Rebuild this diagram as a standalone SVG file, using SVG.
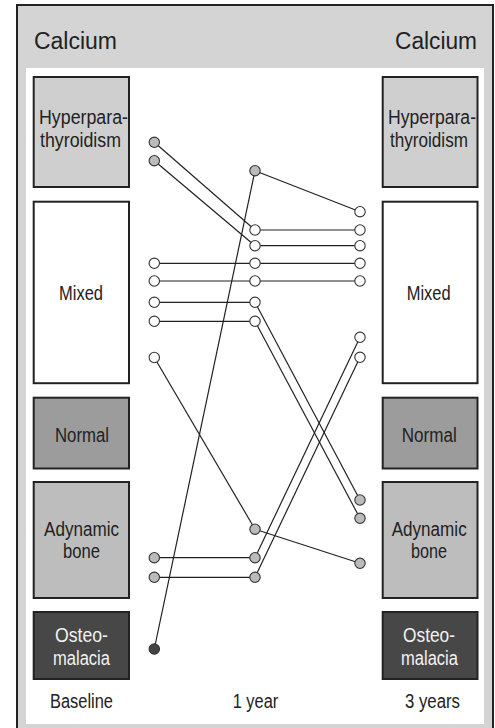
<svg xmlns="http://www.w3.org/2000/svg" width="495" height="728" viewBox="0 0 495 728">
<style>
text{font-family:"Liberation Sans",Arial,sans-serif;fill:#222}
.h{font-size:23px}
.b{font-size:20px}
.w{fill:#f2f2f2}
.box{stroke:#222;stroke-width:2}
.hy{fill:#cfcfcf}.mx{fill:#fff}.no{fill:#9c9c9c}.ad{fill:#bdbdbd}.os{fill:#474747}
.ln{stroke:#222;stroke-width:1.2;fill:none}
.c{stroke:#333;stroke-width:1.1;fill:#fff}
.g{fill:#bbb}.d{fill:#444}
</style>
<rect x="17" y="5" width="476" height="730" fill="#d4d4d4" stroke="#222" stroke-width="2"/>
<rect x="26" y="68" width="458" height="656" fill="#fff"/>
<text class="h" x="34" y="49" textLength="83" lengthAdjust="spacingAndGlyphs">Calcium</text>
<text class="h" x="395" y="49" textLength="82" lengthAdjust="spacingAndGlyphs">Calcium</text>
<g id="L-hyper"><rect class="box hy" x="33.7" y="77" width="95.3" height="110"/>
<text class="b" x="39" y="124" textLength="89" lengthAdjust="spacingAndGlyphs">Hyperpara-</text>
<text class="b" x="40" y="146.5" textLength="81" lengthAdjust="spacingAndGlyphs">thyroidism</text></g>
<g id="L-mixed"><rect class="box mx" x="33.7" y="201.7" width="95.3" height="181.5"/>
<text class="b" x="59" y="299.5" textLength="44" lengthAdjust="spacingAndGlyphs">Mixed</text></g>
<g id="L-normal"><rect class="box no" x="33.7" y="397.7" width="95.3" height="70.8"/>
<text class="b" x="55" y="441.7" textLength="54" lengthAdjust="spacingAndGlyphs">Normal</text></g>
<g id="L-adyn"><rect class="box ad" x="33.7" y="482" width="95.3" height="116"/>
<text class="b" x="44" y="535.7" textLength="75" lengthAdjust="spacingAndGlyphs">Adynamic</text>
<text class="b" x="63" y="558.3" textLength="37" lengthAdjust="spacingAndGlyphs">bone</text></g>
<g id="L-osteo"><rect class="box os" x="33.7" y="612" width="95.3" height="67"/>
<text class="b w" x="55" y="641.7" textLength="53" lengthAdjust="spacingAndGlyphs">Osteo-</text>
<text class="b w" x="53" y="665" textLength="57" lengthAdjust="spacingAndGlyphs">malacia</text></g>
<g id="R-hyper"><rect class="box hy" x="382.7" y="77" width="94.8" height="110"/>
<text class="b" x="388" y="124" textLength="88" lengthAdjust="spacingAndGlyphs">Hyperpara-</text>
<text class="b" x="390" y="146.5" textLength="78" lengthAdjust="spacingAndGlyphs">thyroidism</text></g>
<g id="R-mixed"><rect class="box mx" x="382.7" y="201.7" width="94.8" height="181.5"/>
<text class="b" x="406.7" y="299.5" textLength="44" lengthAdjust="spacingAndGlyphs">Mixed</text></g>
<g id="R-normal"><rect class="box no" x="382.7" y="397.7" width="94.8" height="70.8"/>
<text class="b" x="401.7" y="441.7" textLength="55" lengthAdjust="spacingAndGlyphs">Normal</text></g>
<g id="R-adyn"><rect class="box ad" x="382.7" y="482" width="94.8" height="116"/>
<text class="b" x="391.7" y="535.7" textLength="75" lengthAdjust="spacingAndGlyphs">Adynamic</text>
<text class="b" x="411" y="558.3" textLength="36" lengthAdjust="spacingAndGlyphs">bone</text></g>
<g id="R-osteo"><rect class="box os" x="382.7" y="612" width="94.8" height="67"/>
<text class="b w" x="403" y="641.7" textLength="52" lengthAdjust="spacingAndGlyphs">Osteo-</text>
<text class="b w" x="401" y="665" textLength="57" lengthAdjust="spacingAndGlyphs">malacia</text></g>
<g id="axis-labels">
<text class="b" x="50" y="708" textLength="63" lengthAdjust="spacingAndGlyphs">Baseline</text>
<text class="b" x="232.7" y="708" textLength="45.6" lengthAdjust="spacingAndGlyphs">1 year</text>
<text class="b" x="405" y="708" textLength="55" lengthAdjust="spacingAndGlyphs">3 years</text>
</g>
<g id="connectors" class="ln">
<line x1="154.3" y1="142.3" x2="255" y2="230"/>
<line x1="154.3" y1="160.7" x2="255" y2="245.7"/>
<line x1="255" y1="170.7" x2="360" y2="211.7"/>
<line x1="255" y1="170.7" x2="154.3" y2="649"/>
<line x1="255" y1="230" x2="360" y2="230"/>
<line x1="255" y1="245.7" x2="360" y2="245.7"/>
<line x1="154.3" y1="263.3" x2="360" y2="263.3"/>
<line x1="154.3" y1="281" x2="360" y2="281"/>
<line x1="154.3" y1="302.3" x2="255" y2="302.3"/>
<line x1="154.3" y1="321.3" x2="255" y2="321.3"/>
<line x1="255" y1="302.3" x2="360" y2="500"/>
<line x1="255" y1="321.3" x2="360" y2="518.3"/>
<line x1="154.3" y1="357.5" x2="255" y2="529.2"/>
<line x1="255" y1="529.2" x2="360" y2="563.3"/>
<line x1="154.3" y1="557.7" x2="255" y2="557.7"/>
<line x1="154.3" y1="577.3" x2="255" y2="577.3"/>
<line x1="255" y1="557.7" x2="360" y2="337.3"/>
<line x1="255" y1="577.3" x2="360" y2="357.3"/>
</g>
<g id="points">
<circle class="c g" cx="154.3" cy="142.3" r="5.2"/>
<circle class="c g" cx="154.3" cy="160.7" r="5.2"/>
<circle class="c" cx="154.3" cy="263.3" r="5.2"/>
<circle class="c" cx="154.3" cy="281" r="5.2"/>
<circle class="c" cx="154.3" cy="302.3" r="5.2"/>
<circle class="c" cx="154.3" cy="321.3" r="5.2"/>
<circle class="c" cx="154.3" cy="357.5" r="5.2"/>
<circle class="c g" cx="154.3" cy="557.7" r="5.2"/>
<circle class="c g" cx="154.3" cy="577.3" r="5.2"/>
<circle class="c d" cx="154.3" cy="649" r="5.2"/>
<circle class="c g" cx="255" cy="170.7" r="5.2"/>
<circle class="c" cx="255" cy="230" r="5.2"/>
<circle class="c" cx="255" cy="245.7" r="5.2"/>
<circle class="c" cx="255" cy="263.3" r="5.2"/>
<circle class="c" cx="255" cy="281" r="5.2"/>
<circle class="c" cx="255" cy="302.3" r="5.2"/>
<circle class="c" cx="255" cy="321.3" r="5.2"/>
<circle class="c g" cx="255" cy="529.2" r="5.2"/>
<circle class="c g" cx="255" cy="557.7" r="5.2"/>
<circle class="c g" cx="255" cy="577.3" r="5.2"/>
<circle class="c" cx="360" cy="211.7" r="5.2"/>
<circle class="c" cx="360" cy="230" r="5.2"/>
<circle class="c" cx="360" cy="245.7" r="5.2"/>
<circle class="c" cx="360" cy="263.3" r="5.2"/>
<circle class="c" cx="360" cy="281" r="5.2"/>
<circle class="c" cx="360" cy="337.3" r="5.2"/>
<circle class="c" cx="360" cy="357.3" r="5.2"/>
<circle class="c g" cx="360" cy="500" r="5.2"/>
<circle class="c g" cx="360" cy="518.3" r="5.2"/>
<circle class="c g" cx="360" cy="563.3" r="5.2"/>
</g>
</svg>
